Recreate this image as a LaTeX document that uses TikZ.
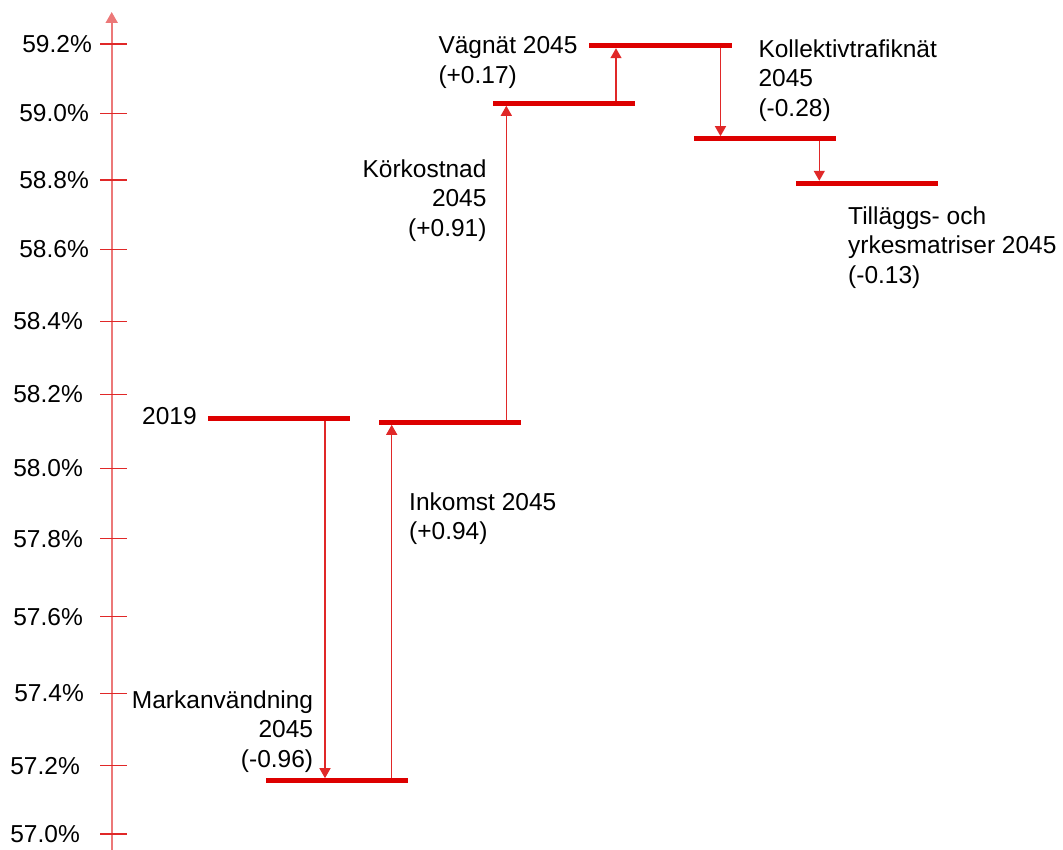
\documentclass[tikz,border=0pt]{standalone}
\usepackage{fontspec}
\setmainfont{Liberation Sans}
\usetikzlibrary{arrows.meta}
\definecolor{barred}{RGB}{221,0,0}
\definecolor{linered}{RGB}{224,40,40}
\definecolor{axisred}{RGB}{236,120,120}
\begin{document}
\begin{tikzpicture}[x=1pt,y=-1pt,
  bar/.style={fill=barred,draw=none,inner sep=0pt,outer sep=0pt,minimum height=5pt},
  conn/.style={draw=linered,line width=1.4pt,-{Triangle[width=11pt,length=10pt]}},
  lbl/.style={inner sep=0pt,font=\fontsize{24.5}{29.5}\selectfont},
  axisline/.style={draw=axisred,line width=1.9pt},
  tickline/.style={draw=linered,line width=1.5pt}]
\useasboundingbox (0,0) rectangle (1063,850);

% axis
\coordinate (axb) at (111.7,850);
\coordinate (axt) at (111.7,12);
\draw[axisline,-{Triangle[width=12pt,length=11pt]}] (axb) -- (axt);
\foreach \yy/\tx/\rx [count=\i] in {44/59.2/92, 113.3/59.0/89, 180/58.8/89, 249.3/58.6/89,
  321.3/58.4/83, 394.3/58.2/83, 468.3/58.0/83, 538.7/57.8/83, 616.7/57.6/83,
  693.3/57.4/84, 765.7/57.2/80, 834/57.0/80}{
  \draw[tickline] (100,\yy) -- (127,\yy);
  \node[lbl,anchor=east] (t\i) at (\rx,\yy) {\tx\%};
}

% bars
\node[bar,minimum width=141.7pt] (b2019) at (279.2,418.3) {};
\node[bar,minimum width=141.7pt] (bInk) at (450.2,422.3) {};
\node[bar,minimum width=142.3pt] (bMark) at (337.2,780.7) {};
\node[bar,minimum width=142.3pt] (bKor) at (563.9,103.3) {};
\node[bar,minimum width=142.3pt] (bVag) at (660.5,45.7) {};
\node[bar,minimum width=142pt] (bKol) at (765,138.7) {};
\node[bar,minimum width=142.6pt] (bTil) at (867,183.3) {};

% connector x positions
\coordinate (xa) at (325,0);
\coordinate (xb) at (391.7,0);
\coordinate (xc) at (506.3,0);
\coordinate (xd) at (616,0);
\coordinate (xe) at (720.5,0);
\coordinate (xf) at (819.3,0);

\draw[conn] (b2019.south -| xa) -- (bMark.north -| xa);
\draw[conn] (bMark.north -| xb) -- (bInk.south -| xb);
\draw[conn] (bInk.north -| xc) -- (bKor.south -| xc);
\draw[conn] (bKor.north -| xd) -- (bVag.south -| xd);
\draw[conn] (bVag.south -| xe) -- (bKol.north -| xe);
\draw[conn] (bKol.south -| xf) -- (bTil.north -| xf);

% labels
\node[lbl,anchor=west] (l2019) at (142,416) {2019};
\node[lbl,anchor=west,align=left] (lInk) at (409,518.5) {Inkomst 2045\\(+0.94)};
\node[lbl,anchor=east,align=right] (lMark) at (313.3,731.5) {Markanvändning\\2045\\(-0.96)};
\node[lbl,anchor=east,align=right] (lKor) at (486.7,200.5) {Körkostnad\\2045\\(+0.91)};
\node[lbl,anchor=west,align=left] (lVag) at (438.3,62.5) {Vägnät 2045\\(+0.17)};
\node[lbl,anchor=west,align=left] (lKol) at (758.3,80.5) {Kollektivtrafiknät\\2045\\(-0.28)};
\node[lbl,anchor=west,align=left] (lTil) at (848,247.5) {Tilläggs- och\\yrkesmatriser 2045\\(-0.13)};
\end{tikzpicture}
\end{document}
